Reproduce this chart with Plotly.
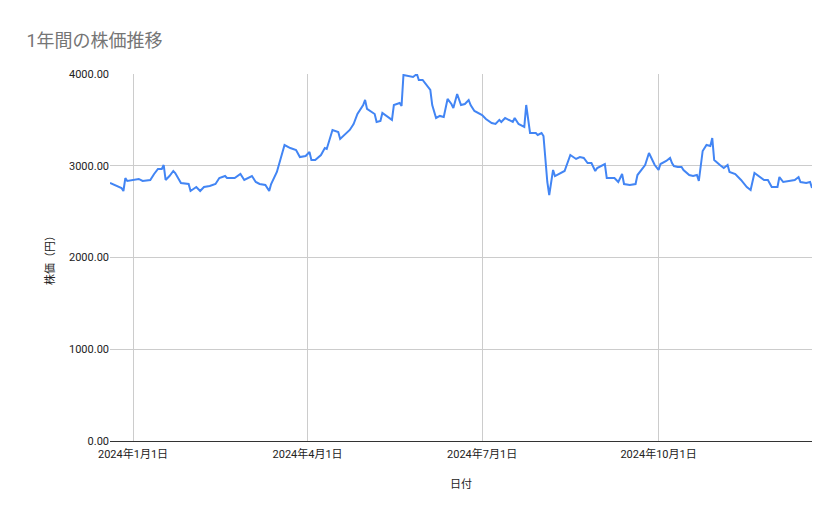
import plotly.graph_objects as go

dates = [
    "2023-12-20", "2023-12-23", "2023-12-26", "2023-12-27", "2023-12-28", "2023-12-29",
    "2024-01-02", "2024-01-04", "2024-01-06", "2024-01-10", "2024-01-12", "2024-01-14",
    "2024-01-16", "2024-01-17", "2024-01-18", "2024-01-20", "2024-01-22", "2024-01-23",
    "2024-01-26", "2024-01-30", "2024-01-31", "2024-02-03", "2024-02-05", "2024-02-07",
    "2024-02-10", "2024-02-13", "2024-02-15", "2024-02-18", "2024-02-19", "2024-02-23",
    "2024-02-26", "2024-02-28", "2024-03-03", "2024-03-05", "2024-03-07", "2024-03-10",
    "2024-03-12", "2024-03-13", "2024-03-16", "2024-03-18", "2024-03-20", "2024-03-23",
    "2024-03-26", "2024-03-28", "2024-03-31", "2024-04-02", "2024-04-03", "2024-04-05",
    "2024-04-08", "2024-04-10", "2024-04-11", "2024-04-14", "2024-04-17", "2024-04-18",
    "2024-04-21", "2024-04-23", "2024-04-25", "2024-04-27", "2024-04-30", "2024-05-01",
    "2024-05-02", "2024-05-06", "2024-05-07", "2024-05-09", "2024-05-10", "2024-05-14",
    "2024-05-15", "2024-05-16", "2024-05-19", "2024-05-20", "2024-05-21", "2024-05-26",
    "2024-05-28", "2024-05-29", "2024-05-31", "2024-06-04", "2024-06-05", "2024-06-07",
    "2024-06-09", "2024-06-11", "2024-06-13", "2024-06-15", "2024-06-16", "2024-06-18",
    "2024-06-20", "2024-06-22", "2024-06-24", "2024-06-25", "2024-06-27", "2024-07-01",
    "2024-07-03", "2024-07-06", "2024-07-08", "2024-07-10", "2024-07-11", "2024-07-13",
    "2024-07-17", "2024-07-18", "2024-07-20", "2024-07-23", "2024-07-24", "2024-07-26",
    "2024-07-29", "2024-07-30", "2024-08-01", "2024-08-02", "2024-08-04", "2024-08-05",
    "2024-08-07", "2024-08-08", "2024-08-11", "2024-08-13", "2024-08-16", "2024-08-19",
    "2024-08-21", "2024-08-23", "2024-08-25", "2024-08-27", "2024-08-29", "2024-08-30",
    "2024-09-03", "2024-09-04", "2024-09-08", "2024-09-10", "2024-09-12", "2024-09-13",
    "2024-09-16", "2024-09-19", "2024-09-20", "2024-09-24", "2024-09-26", "2024-09-29",
    "2024-10-01", "2024-10-02", "2024-10-05", "2024-10-07", "2024-10-08", "2024-10-09",
    "2024-10-11", "2024-10-13", "2024-10-14", "2024-10-17", "2024-10-19", "2024-10-21",
    "2024-10-22", "2024-10-24", "2024-10-26", "2024-10-28", "2024-10-29", "2024-10-30",
    "2024-11-02", "2024-11-04", "2024-11-06", "2024-11-07", "2024-11-10", "2024-11-13",
    "2024-11-16", "2024-11-18", "2024-11-20", "2024-11-22", "2024-11-25", "2024-11-27",
    "2024-11-29", "2024-12-02", "2024-12-03", "2024-12-05", "2024-12-11", "2024-12-13",
    "2024-12-14", "2024-12-17", "2024-12-19", "2024-12-20",
]

prices = [
    2812, 2780, 2757, 2725, 2866, 2834,
    2845, 2856, 2834, 2845, 2910, 2965,
    2965, 3008, 2845, 2888, 2943, 2921,
    2812, 2801, 2725, 2768, 2725, 2768,
    2779, 2801, 2866, 2888, 2866, 2866,
    2910, 2845, 2888, 2823, 2801, 2790,
    2725, 2801, 2932, 3074, 3226, 3193,
    3172, 3095, 3106, 3150, 3063, 3063,
    3117, 3193, 3183, 3390, 3368, 3292,
    3357, 3390, 3455, 3564, 3662, 3717,
    3619, 3564, 3477, 3488, 3575, 3521,
    3500, 3662, 3684, 3651, 3989, 3967,
    4000, 3935, 3935, 3826, 3662, 3521,
    3543, 3532, 3728, 3673, 3630, 3782,
    3662, 3673, 3717, 3662, 3597, 3553,
    3510, 3466, 3455, 3500, 3477, 3521,
    3477, 3521, 3455, 3423, 3662, 3357,
    3357, 3335, 3357, 3324, 2823, 2681,
    2954, 2888, 2921, 2943, 3117, 3074,
    3095, 3085, 3030, 3030, 2943, 2975,
    3019, 2866, 2866, 2823, 2910, 2801,
    2790, 2801, 2899, 3008, 3139, 3008,
    2954, 3019, 3052, 3085, 3030, 2997,
    2986, 2986, 2954, 2899, 2888, 2899,
    2834, 3161, 3226, 3215, 3302, 3063,
    3008, 2975, 3008, 2932, 2910, 2845,
    2768, 2735, 2921, 2888, 2845, 2845,
    2768, 2768, 2877, 2823, 2845, 2877,
    2823, 2812, 2823, 2757,
]

quarter_ticks = ["2024-01-01", "2024-04-01", "2024-07-01", "2024-10-01"]
quarter_labels = ["2024年1月1日", "2024年4月1日", "2024年7月1日", "2024年10月1日"]
y_ticks = [0, 1000, 2000, 3000, 4000]

fig = go.Figure(
    go.Scatter(
        x=dates,
        y=prices,
        mode="lines",
        line={"color": "#4285F4", "width": 2},
        showlegend=False,
    )
)

fig.update_layout(
    width=839,
    height=519,
    paper_bgcolor="white",
    plot_bgcolor="white",
    font={"family": "Roboto, Noto Sans CJK JP, sans-serif", "color": "#222222", "size": 11},
    title={
        "text": "1年間の株価推移",
        "x": 0.022,
        "xanchor": "left",
        "y": 0.95,
        "font": {"size": 18, "color": "#757575"},
    },
    margin={"l": 102, "r": 35, "t": 66, "b": 86},
)
fig.update_xaxes(
    range=[dates[0], dates[-1]],
    tickvals=quarter_ticks,
    ticktext=quarter_labels,
    showgrid=True,
    gridcolor="#cccccc",
    showline=True,
    linecolor="#333333",
    ticks="outside",
    ticklen=3,
    tickcolor="rgba(0,0,0,0)",
    title={"text": "日付", "standoff": 20, "font": {"size": 11}},
)
fig.update_yaxes(
    range=[0, 4000],
    tickvals=y_ticks,
    tickformat=".2f",
    showgrid=True,
    gridcolor="#cccccc",
    zeroline=False,
    ticks="",
    title={"text": "株価（円）", "standoff": 12, "font": {"size": 11}},
)

fig.write_html("out.html")
